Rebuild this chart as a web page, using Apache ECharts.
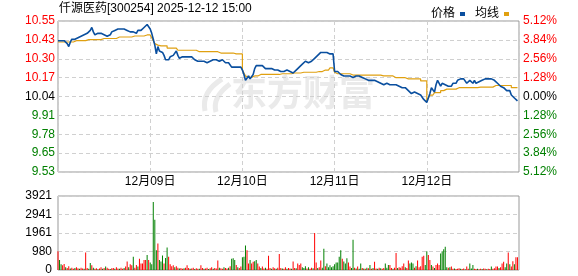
<!DOCTYPE html>
<html><head><meta charset="utf-8">
<script src="https://cdn.jsdelivr.net/npm/echarts@6/dist/echarts.min.js"></script>
<style>html,body{margin:0;padding:0;background:#fff}#c{width:578px;height:276px}</style>
</head><body><div id="c"></div>
<script>
const titleText = '仟源医药[300254] 2025-12-12 15:00';
const days = ['12月08日','12月09日','12月10日','12月11日','12月12日'];
const prevClose = 10.04;
const priceTicks = ['9.53','9.65','9.78','9.91','10.04','10.17','10.30','10.43','10.55'];
const pctTicks = ['5.12%','3.84%','2.56%','1.28%','0.00%','1.28%','2.56%','3.84%','5.12%'];
const volTicks = ['0','980','1961','2941','3921'];

const price1 = [10.42,10.43,10.42,10.43,10.42,10.42,10.40,10.38,10.41,10.43, 10.42,10.43,10.44,10.44,10.44,10.45,10.45,10.46,10.47,10.47, 10.47,10.49,10.51,10.48,10.46,10.47,10.47,10.47,10.47,10.47, 10.46,10.46,10.45,10.46,10.46,10.48,10.49,10.49,10.49,10.50, 10.49,10.50,10.49,10.50,10.49,10.49,10.48,10.48,10.49,10.48, 10.47,10.47,10.49,10.49,10.49,10.50,10.51,10.52,10.53,10.53];
const price2 = [10.50,10.47,10.43,10.39,10.33,10.38,10.35,10.34,10.34,10.32, 10.29,10.28,10.29,10.31,10.30,10.32,10.33,10.35,10.32,10.30, 10.30,10.31,10.30,10.31,10.30,10.31,10.30,10.31,10.30,10.29, 10.29,10.28,10.28,10.28,10.27,10.28,10.28,10.27,10.28,10.28, 10.29,10.29,10.29,10.29,10.29,10.28,10.28,10.29,10.28,10.27, 10.28,10.27,10.26,10.24,10.23,10.24,10.24,10.24,10.24,10.24];
const price3 = [10.22,10.19,10.15,10.15,10.18,10.16,10.17,10.19,10.23,10.25, 10.26,10.25,10.24,10.25,10.24,10.23,10.24,10.23,10.22,10.23, 10.23,10.22,10.23,10.22,10.22,10.21,10.20,10.21,10.22,10.22, 10.22,10.21,10.20,10.20,10.21,10.22,10.23,10.24,10.24,10.26, 10.27,10.28,10.28,10.27,10.28,10.28,10.29,10.30,10.31,10.32, 10.33,10.34,10.33,10.34,10.34,10.34,10.34,10.33,10.33,10.33];
const price4 = [10.21,10.20,10.21,10.20,10.19,10.18,10.18,10.18,10.18,10.17, 10.18,10.17,10.17,10.18,10.18,10.17,10.18,10.18,10.17,10.18, 10.16,10.16,10.15,10.16,10.15,10.15,10.15,10.14,10.14,10.13, 10.13,10.13,10.12,10.12,10.13,10.12,10.12,10.11,10.12,10.11, 10.12,10.11,10.11,10.11,10.10,10.10,10.10,10.09,10.08,10.07, 10.06,10.07,10.07,10.08,10.06,10.05,10.05,10.04,10.02,10.01];
const price5 = [10.00,10.03,10.06,10.10,10.09,10.07,10.12,10.15,10.14,10.11, 10.13,10.13,10.12,10.11,10.11,10.12,10.11,10.13,10.14,10.13, 10.15,10.15,10.16,10.17,10.16,10.16,10.13,10.14,10.15,10.14, 10.13,10.15,10.13,10.13,10.14,10.13,10.15,10.16,10.16,10.17, 10.16,10.15,10.16,10.15,10.15,10.14,10.13,10.12,10.11,10.10, 10.10,10.09,10.08,10.07,10.08,10.05,10.04,10.03,10.02,10.01];

const avg1 = [10.411,10.411,10.411,10.411,10.411,10.411,10.411,10.411,10.411,10.411, 10.411,10.42,10.42,10.42,10.42,10.42,10.42,10.42,10.42,10.427, 10.427,10.427,10.427,10.427,10.427,10.427,10.427,10.427,10.427,10.435, 10.435,10.435,10.435,10.435,10.435,10.435,10.435,10.435,10.445,10.445, 10.445,10.445,10.445,10.445,10.445,10.445,10.445,10.445,10.452,10.452, 10.452,10.452,10.452,10.452,10.452,10.452,10.452,10.459,10.459,10.459];
const avg2 = [10.46,10.44,10.42,10.40,10.39,10.385,10.385,10.385,10.385,10.385, 10.385,10.37,10.37,10.37,10.37,10.37,10.37,10.37,10.355,10.355, 10.355,10.355,10.355,10.355,10.355,10.355,10.355,10.355,10.355,10.355, 10.355,10.345,10.345,10.345,10.345,10.345,10.345,10.345,10.345,10.345, 10.345,10.345,10.345,10.345,10.336,10.336,10.336,10.336,10.336,10.336, 10.336,10.336,10.336,10.336,10.336,10.33,10.33,10.33,10.33,10.33];
const avg3 = [10.22,10.20,10.18,10.17,10.17,10.17,10.18,10.18,10.18,10.18, 10.18,10.19,10.19,10.19,10.19,10.19,10.19,10.19,10.19,10.19, 10.19,10.19,10.19,10.19,10.19,10.195,10.195,10.195,10.195,10.195, 10.195,10.195,10.20,10.20,10.20,10.20,10.20,10.20,10.205,10.205, 10.205,10.205,10.205,10.205,10.205,10.205,10.205,10.205,10.21,10.21, 10.21,10.21,10.21,10.22,10.22,10.22,10.22,10.235,10.235,10.235];
const avg4 = [10.205,10.195,10.195,10.195,10.195,10.195,10.195,10.195,10.195,10.195, 10.195,10.186,10.186,10.186,10.186,10.186,10.186,10.186,10.186,10.186, 10.186,10.186,10.186,10.186,10.186,10.186,10.186,10.186,10.186,10.186, 10.186,10.18,10.18,10.18,10.18,10.18,10.18,10.18,10.168,10.168, 10.168,10.168,10.168,10.168,10.168,10.168,10.168,10.16,10.16,10.16, 10.16,10.16,10.16,10.16,10.16,10.16,10.146,10.146,10.146,10.146];
const avg5 = [10.01,10.03,10.05,10.05,10.05,10.066,10.066,10.066,10.066,10.08, 10.08,10.08,10.09,10.09,10.09,10.09,10.09,10.09,10.09,10.10, 10.10,10.10,10.10,10.10,10.10,10.10,10.10,10.10,10.10,10.10, 10.10,10.10,10.10,10.104,10.104,10.104,10.104,10.104,10.104,10.104, 10.104,10.104,10.104,10.104,10.115,10.115,10.115,10.115,10.115,10.115, 10.115,10.115,10.115,10.115,10.115,10.10,10.10,10.10,10.10,10.10];

const vol1 = [1000,530,300,250,320,150,100,200,80,120, 60,100,150,90,70,120,80,60,930,100, 60,370,250,120,60,90,40,80,150,60, 100,180,120,70,50,90,110,60,150,80, 70,120,60,100,180,450,150,300,250,700, 120,260,180,600,350,350,530,530,800,530];
const vol2 = [400,300,3600,2660,1050,1400,530,450,770,350, 640,1190,700,300,200,250,150,200,120,80, 100,60,90,120,250,100,60,80,120,50, 90,70,60,250,100,60,80,120,50,90, 150,70,100,80,500,120,90,60,150,100, 80,120,200,600,620,530,260,150,100,180];
const vol3 = [670,700,1300,1050,350,530,350,440,470,530, 350,180,100,180,80,120,60,750,100,60, 150,90,60,120,850,100,80,60,150,70, 100,80,60,450,100,90,350,265,350,150, 100,200,80,150,60,120,90,1960,400,100, 150,500,120,1130,200,350,150,250,150,200];
const vol4 = [300,400,400,700,1050,600,450,350,620,400, 180,100,1600,120,80,180,60,350,100,80, 60,120,90,265,60,100,440,80,60,120, 90,70,100,350,120,265,265,100,60,120, 900,100,150,120,200,350,150,100,500,350, 400,350,120,200,500,150,200,700,750,265];
const vol5 = [1000,800,530,265,180,100,265,350,265,880, 1000,1100,1230,150,120,150,180,60,80,50, 70,90,60,50,80,40,180,60,350,80, 265,60,50,70,40,60,50,80,60,40, 70,50,180,60,90,180,180,100,150,350, 440,150,350,930,300,180,470,300,680,680];

const up1 = [1,0,0,1,1,0,1,1,0,1, 1,0,1,1,0,1,1,0,1,1, 0,0,1,0,1,1,0,1,1,0, 1,0,1,1,0,1,1,0,1,1, 0,1,1,0,1,1,0,1,1,0, 1,1,0,1,1,1,1,1,0,1];
const up2 = [0,0,0,0,0,1,0,0,0,1, 0,0,1,1,1,1,0,1,1,0, 1,1,0,1,1,1,0,1,1,0, 1,1,0,1,1,0,1,1,0,1, 1,0,1,1,1,0,1,1,0,1, 1,0,1,0,0,0,1,0,1,1];
const up3 = [0,0,0,1,1,0,1,1,0,0, 1,1,0,1,1,0,1,1,1,0, 1,1,0,1,1,1,0,1,1,0, 1,1,0,1,1,0,1,1,1,0, 0,0,1,0,1,1,0,1,1,0, 1,1,0,0,1,0,0,0,0,0];
const up4 = [0,0,0,0,0,1,0,0,0,1, 1,0,0,1,0,1,0,0,1,0, 1,0,1,0,1,0,1,1,0,1, 0,1,1,0,0,0,1,1,0,1, 1,0,1,1,1,1,0,1,1,0, 0,0,1,0,1,1,1,1,1,0];
const up5 = [0,1,1,0,1,0,1,1,1,0, 0,0,0,0,1,0,1,1,0,1, 1,1,0,1,1,0,1,1,0,0, 0,1,1,0,1,1,0,1,1,0, 1,1,0,1,1,1,1,0,1,1, 1,0,0,1,0,1,1,0,1,1];

const prices = [].concat(price1, price2, price3, price4, price5);
const avgs = [].concat(avg1, avg2, avg3, avg4, avg5);
const vols = [].concat(vol1, vol2, vol3, vol4, vol5);
const ups = [].concat(up1, up2, up3, up4, up5);
const slots = prices.length;
const perDay = price1.length;

const RED = '#ff0000', GREEN = '#008000', BLUE = '#0a4f9f', GOLD = '#e0a010';
const FONT = '"Liberation Sans", "Noto Sans CJK SC", sans-serif';
const pct = p => (p - prevClose) / prevClose * 100;
const tickIdx = v => Math.round((Number(v) + 5.12) / 1.28);
const tickColor = v => { const i = tickIdx(v); return i > 4 ? RED : (i < 4 ? GREEN : '#000'); };

const chart = echarts.init(document.getElementById('c'), null, {renderer: 'canvas'});
chart.setOption({
  animation: false,
  backgroundColor: '#fff',
  textStyle: {fontFamily: FONT},
  graphic: [
    {type: 'text', x: 59, y: 3, z: 10, style: {text: titleText, font: '12px ' + FONT, fill: '#000'}},
    {type: 'text', x: 231, y: 74, z: 0, style: {text: '东方财富', font: 'bold 36px "Noto Sans CJK SC"', fill: '#eaeaea'}},
    {type: 'bezierCurve', z: 0, shape: {x1: 222, y1: 79, cpx1: 201, cpy1: 92, x2: 205, y2: 111}, style: {stroke: '#eaeaea', lineWidth: 5, fill: null}},
    {type: 'bezierCurve', z: 0, shape: {x1: 230, y1: 84, cpx1: 212, cpy1: 97, x2: 216, y2: 112}, style: {stroke: '#eaeaea', lineWidth: 5, fill: null}}
  ],
  legend: {
    data: ['价格', '均线'], right: 64, top: 3, align: 'right', icon: 'rect',
    itemWidth: 5, itemHeight: 4, itemGap: 10,
    textStyle: {fontSize: 12, color: '#000', fontFamily: FONT}
  },
  grid: [
    {left: 58, top: 21, width: 461, height: 151, show: true, borderColor: '#999', borderWidth: 1, backgroundColor: 'transparent'},
    {left: 58, top: 196, width: 461, height: 74, show: true, borderColor: '#999', borderWidth: 1, backgroundColor: 'transparent'}
  ],
  xAxis: [
    {type: 'value', gridIndex: 0, min: 0, max: slots, interval: perDay,
     axisLine: {show: false}, axisTick: {show: false},
     splitLine: {show: true, lineStyle: {color: '#d0d0d0', type: [4, 3]}},
     axisLabel: {margin: 4, fontSize: 12, color: '#000', fontFamily: FONT,
       formatter: v => (v > 0 && v < slots) ? days[Math.round(v / perDay)] : ''}},
    {type: 'value', gridIndex: 1, min: 0, max: slots, interval: perDay,
     axisLine: {show: false}, axisTick: {show: false}, splitLine: {show: false}, axisLabel: {show: false}}
  ],
  yAxis: [
    {type: 'value', gridIndex: 0, position: 'left', min: -5.12, max: 5.12, interval: 1.28,
     axisLine: {show: false}, axisTick: {show: false},
     splitLine: {show: true, lineStyle: {color: '#d0d0d0', type: [4, 3]}},
     axisLabel: {margin: 3, fontSize: 12, fontFamily: FONT, formatter: v => priceTicks[tickIdx(v)], color: v => tickColor(v)}},
    {type: 'value', gridIndex: 0, position: 'right', min: -5.12, max: 5.12, interval: 1.28,
     axisLine: {show: false}, axisTick: {show: false}, splitLine: {show: false},
     axisLabel: {margin: 4, fontSize: 12, fontFamily: FONT, formatter: v => pctTicks[tickIdx(v)], color: v => tickColor(v)}},
    {type: 'value', gridIndex: 1, min: 0, max: 3921, interval: 980.25,
     axisLine: {show: false}, axisTick: {show: false},
     splitLine: {show: true, lineStyle: {color: '#d0d0d0', type: [4, 3]}},
     axisLabel: {margin: 6, fontSize: 12, color: '#000', fontFamily: FONT, formatter: v => volTicks[Math.round(v / 980.25)]}}
  ],
  series: [
    {name: '价格', type: 'line', xAxisIndex: 0, yAxisIndex: 0, showSymbol: false, z: 4,
     itemStyle: {color: BLUE}, lineStyle: {color: BLUE, width: 1.6},
     data: prices.map((p, i) => [i, pct(p)])},
    {name: '均线', type: 'line', xAxisIndex: 0, yAxisIndex: 0, showSymbol: false, z: 3, step: 'end',
     itemStyle: {color: GOLD}, lineStyle: {color: GOLD, width: 1.2},
     data: avgs.map((p, i) => [i, pct(p)])},
    {name: '成交量', type: 'bar', xAxisIndex: 1, yAxisIndex: 2, barWidth: 1,
     data: vols.map((v, i) => ({value: [i, v], itemStyle: {color: ups[i] ? RED : GREEN}}))}
  ]
});
</script></body></html>
